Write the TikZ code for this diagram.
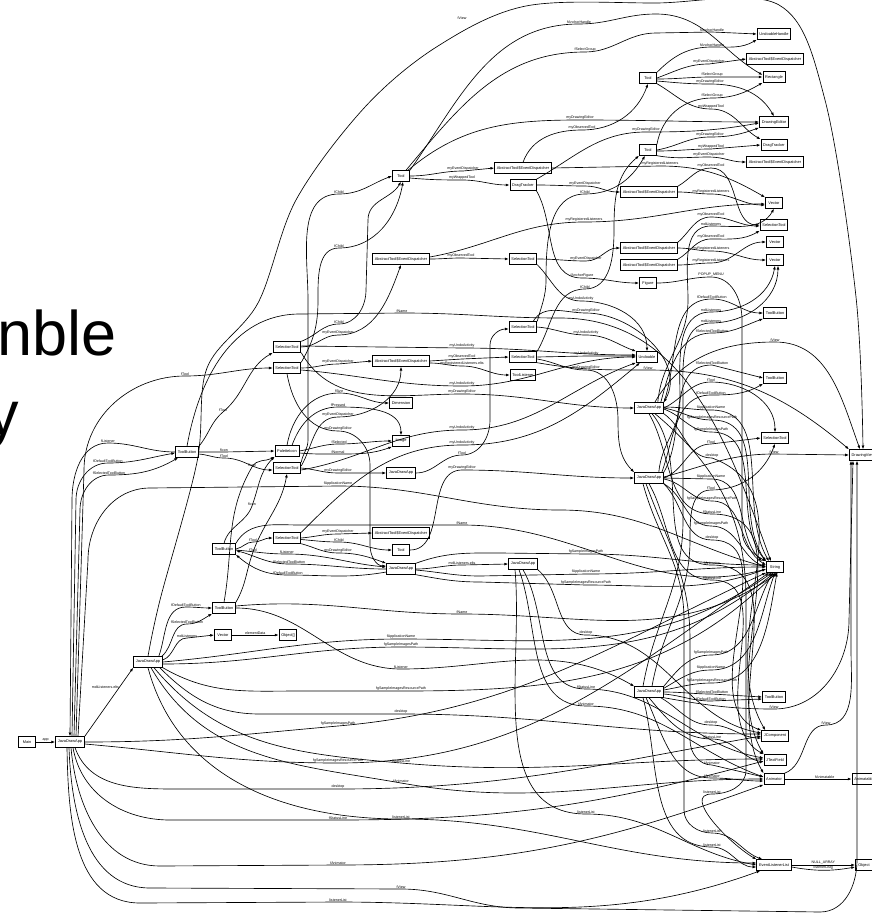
\documentclass[tikz,border=0pt]{standalone}
\usepackage{fontspec}
\setmainfont{Liberation Sans}
\usetikzlibrary{arrows.meta}

\tikzset{
  obj/.style={draw, line width=0.9pt, font=\fontsize{3.9}{4.5}\selectfont, inner xsep=2.2pt, inner ysep=0pt, minimum height=10.5pt, minimum width=17pt},
  lab/.style={font=\fontsize{3.6}{4}\selectfont, inner sep=0.4pt, anchor=south},
  ref/.style={-{Latex[length=3.8pt,width=2.8pt]}, line width=0.65pt},
}

\begin{document}
\begin{tikzpicture}[x=1pt,y=1pt]
\useasboundingbox (0,0) rectangle (872,-915);
\clip (0,0) rectangle (872,-915);

% Slide title, cut at the left
\node[anchor=base west, inner sep=0, font=\fontsize{63}{63}\selectfont] (head1) at (-3,-355) {nble};
\node[anchor=base east, inner sep=0, font=\fontsize{63}{63}\selectfont] (head2) at (19,-435) {y};

% Objects
\node[obj] (main) at (27,-742) {Main};
\node[obj] (jda0) at (70,-742) {JavaDrawApp};
\node[obj] (jda1) at (148,-662) {JavaDrawApp};
\node[obj] (tb1) at (187,-452) {ToolButton};
\node[obj] (tb2) at (224,-549) {ToolButton};
\node[obj] (tb3) at (224,-608) {ToolButton};
\node[obj] (vec1) at (223,-635) {Vector};
\node[obj] (objarr) at (288,-635) {Object[]};
\node[obj] (sel1) at (287,-347) {SelectionTool};
\node[obj] (sel2) at (287,-368) {SelectionTool};
\node[obj] (pal) at (287,-451) {PaletteIcon};
\node[obj] (sel3) at (287,-468) {SelectionTool};
\node[obj] (sel4) at (287,-538) {SelectionTool};
\node[obj] (tool1) at (401,-176) {Tool};
\node[obj] (aed1) at (401,-259) {AbstractTool\$EventDispatcher};
\node[obj] (aed2) at (401,-361) {AbstractTool\$EventDispatcher};
\node[obj] (dim) at (401,-403) {Dimension};
\node[obj] (img) at (401,-441) {Image};
\node[obj] (jda2) at (401,-473) {JavaDrawApp};
\node[obj] (aed3) at (401,-533) {AbstractTool\$EventDispatcher};
\node[obj] (tool2) at (401,-550) {Tool};
\node[obj] (jda3) at (401,-569) {JavaDrawApp};
\node[obj] (aed4) at (523,-168) {AbstractTool\$EventDispatcher};
\node[obj] (drag1) at (523,-185) {DragTracker};
\node[obj] (sel5) at (523,-259) {SelectionTool};
\node[obj] (sel6) at (523,-327) {SelectionTool};
\node[obj] (sel7) at (523,-357) {SelectionTool};
\node[obj] (tlis) at (523,-375) {ToolListener};
\node[obj] (jda4) at (523,-564) {JavaDrawApp};
\node[obj] (tool3) at (648,-78) {Tool};
\node[obj] (tool4) at (648,-150) {Tool};
\node[obj] (aed5) at (649,-192) {AbstractTool\$EventDispatcher};
\node[obj] (aed6) at (649,-248) {AbstractTool\$EventDispatcher};
\node[obj] (aed7) at (649,-265) {AbstractTool\$EventDispatcher};
\node[obj] (fig) at (648,-283) {Figure};
\node[obj] (undo) at (647,-357) {Undoable};
\node[obj] (jda5) at (649,-408) {JavaDrawApp};
\node[obj] (jda6) at (649,-478) {JavaDrawApp};
\node[obj] (jda7) at (649,-692) {JavaDrawApp};
\node[obj] (uh) at (774,-34) {UndoableHandle};
\node[obj] (aed8) at (775,-59) {AbstractTool\$EventDispatcher};
\node[obj] (rect) at (774,-77) {Rectangle};
\node[obj] (de) at (774,-122) {DrawingEditor};
\node[obj] (drag2) at (774,-145) {DragTracker};
\node[obj] (aed9) at (775,-162) {AbstractTool\$EventDispatcher};
\node[obj] (vec2) at (774,-203) {Vector};
\node[obj] (sel8) at (774,-225) {SelectionTool};
\node[obj] (vec3) at (775,-242) {Vector};
\node[obj] (vec4) at (775,-260) {Vector};
\node[obj] (tb4) at (775,-313) {ToolButton};
\node[obj] (tb5) at (775,-378) {ToolButton};
\node[obj] (sel9) at (775,-438) {SelectionTool};
\node[obj] (dv) at (863,-455) {DrawingView};
\node[obj] (str) at (775,-567) {String};
\node[obj] (tb6) at (774,-697) {ToolButton};
\node[obj] (jcomp) at (775,-736) {JComponent};
\node[obj] (jtf) at (775,-760) {JTextField};
\node[obj] (anim) at (774,-779) {Animator};
\node[obj] (animbl) at (864,-779) {Animatable};
\node[obj] (ell) at (774,-865) {EventListenerList};
\node[obj] (objb) at (864,-865) {Object};

% Main and first JavaDrawApp
\draw[ref] (main) -- node[lab]{app} (jda0);
\draw[ref] (jda0.north east) -- node[lab, pos=0.72, anchor=east]{mdiListeners.elts} (jda1.south west);
\draw[ref] (tb1.west) to[out=180,in=0] (108,-443) node[lab]{fListener} to[out=180,in=90] (72,-500) -- (jda0.north);
\draw[ref] ([xshift=2pt]jda0.north) -- (76,-500) to[out=90,in=180] (108,-463) node[lab]{fDefaultToolButton} to[out=0,in=190] ([yshift=-1pt]tb1.west);
\draw[ref] ([xshift=4pt]jda0.north) -- (80,-510) to[out=90,in=180] (109,-475) node[lab]{fSelectedToolButton} to[out=0,in=210] ([xshift=3pt]tb1.south west);
\draw[ref] ([xshift=6pt]jda0.north) -- (84,-470) to[out=90,in=180] (185,-376) node[lab]{fTool} to[out=0,in=180] (sel2.west);
\draw[ref] ([xshift=8pt]jda0.north) -- (88,-560) to[out=90,in=180] (150,-488) -- (338,-486) node[lab]{fApplicationName} to[out=0,in=180] (560,-510) to[out=0,in=165] (str.west);
\draw[ref] (jda0.east) to[out=0,in=185] (338,-726) node[lab]{fgSampleImagesPath} to[out=5,in=205] (str.south west);
\draw[ref] ([yshift=-2pt]jda0.east) to[out=-5,in=180] (338,-763) node[lab]{fgSampleImagesResourcePath} to[out=0,in=215] ([xshift=3pt]str.south west);
\draw[ref] ([xshift=5pt]jda0.south) to[out=-70,in=180] (180,-789) -- (338,-789) node[lab]{desktop} to[out=0,in=190] (jcomp.west);
\draw[ref] ([xshift=3pt]jda0.south) to[out=-80,in=180] (170,-820) -- (338,-820) node[lab]{fStatusLine} to[out=0,in=195] ([yshift=-1pt]jtf.west);
\draw[ref] ([xshift=1pt]jda0.south) to[out=-85,in=180] (160,-866) -- (338,-865) node[lab]{fAnimator} to[out=0,in=200] (anim.south west);
\draw[ref] ([xshift=-1pt]jda0.south) to[out=-88,in=180] (150,-888) -- (401,-889) node[lab]{fView} to[out=0,in=180] (520,-908) -- (820,-912) to[out=0,in=-90] (857,-860) -- ([xshift=-6pt]dv.south);
\draw[ref] ([xshift=-3pt]jda0.south) to[out=-89,in=180] (140,-903) -- (338,-902) node[lab]{listenerList} to[out=0,in=200] ([xshift=4pt]ell.south west);

% Second JavaDrawApp
\draw[ref] ([xshift=-4pt]jda1.north east) to[out=70,in=180] (186,-607) node[lab]{fDefaultToolButton} to[out=0,in=180] (tb3.west);
\draw[ref] ([xshift=-1pt]jda1.north east) to[out=40,in=180] (187,-624) node[lab]{fSelectedToolButton} to[out=0,in=-150] (tb3.south west);
\draw[ref] ([yshift=2pt]jda1.east) to[out=20,in=180] (187,-638) node[lab]{mdiListeners} -- (vec1.west);
\draw[ref] (vec1) -- node[lab]{elementData} (objarr);
\draw[ref] (jda1.east) to[out=5,in=180] (401,-639) node[lab]{fApplicationName} to[out=0,in=215] ([xshift=6pt]str.south west);
\draw[ref] ([yshift=-2pt]jda1.east) to[out=0,in=180] (401,-647) node[lab]{fgSampleImagesPath} to[out=0,in=220] ([xshift=8pt]str.south west);
\draw[ref] (jda1.south east) to[out=-30,in=180] (300,-691) -- (401,-691) node[lab]{fgSampleImagesResourcePath} to[out=0,in=225] ([xshift=10pt]str.south west);
\draw[ref] ([xshift=-3pt]jda1.south east) to[out=-45,in=180] (260,-714) -- (401,-714) node[lab]{desktop} to[out=0,in=180] ([yshift=2pt]jcomp.west);
\draw[ref] ([xshift=6pt]jda1.south) to[out=-50,in=175] (401,-763) node[lab]{fStatusLine} to[out=-5,in=180] ([yshift=1pt]jtf.west);
\draw[ref] ([xshift=3pt]jda1.south) to[out=-60,in=170] (401,-783) node[lab]{fAnimator} to[out=-10,in=180] (anim.west);
\draw[ref] (jda1.south) to[out=-75,in=180] (401,-819) node[lab]{listenerList} to[out=0,in=180] ([yshift=2pt]ell.west);
\draw[ref] (462,-18) node[lab,anchor=center]{fView} plot[smooth, tension=0.55] coordinates {(jda1.north) (160,-600) (197,-462) (207,-368) (258,-303) (296,-200) (365,-107) (438,-46) (526,-6) (656,-3) (779,-5) (825,-100) (856,-297) (dv.north)};

% Tool buttons
\draw[ref] (tb1.north east) to[out=50,in=-140] (223,-412) node[lab]{fTool} to[out=40,in=-150] (sel1.south west);
\draw[ref] (tb1.east) to[out=0,in=180] (224,-452) node[lab]{fIcon} -- (pal.west);
\draw[ref] ([yshift=-2pt]tb1.east) to[out=-5,in=180] (224,-458) node[lab]{fTool} to[out=0,in=180] ([yshift=-2pt]sel3.west);
\draw[ref] (tb1.north) to[out=80,in=180] (300,-314) -- (402,-313) node[lab]{fName} to[out=0,in=180] (560,-318) to[out=0,in=110] ([xshift=-4pt]str.north);
\draw[ref] (tb2.east) to[out=10,in=180] (253,-542) node[lab]{fTool} to[out=0,in=180] (sel4.west);
\draw[ref] (tb2.north) to[out=75,in=-110] (252,-506) node[lab]{fIcon} to[out=70,in=-135] (pal.south west);
\draw[ref] ([yshift=-1pt]tb2.east) to[out=-5,in=180] (287,-554) node[lab]{fListener} to[out=0,in=175] ([yshift=2pt]jda3.west);
\draw[ref] (jda3.west) to[out=180,in=0] (289,-564) node[lab]{fSelectedToolButton} to[out=180,in=-15] ([yshift=-1.5pt]tb2.east);
\draw[ref] ([yshift=-3pt]jda3.west) to[out=190,in=0] (288,-575) node[lab]{fDefaultToolButton} to[out=180,in=-40] (tb2.south east);
\draw[ref] (tb2.north east) to[out=60,in=180] (300,-525) -- (462,-525) node[lab]{fName} to[out=0,in=195] ([yshift=-2pt]str.west);
\draw[ref] (tb3.north east) to[out=60,in=-110] (253,-552) node[lab]{fTool} to[out=70,in=-100] (sel3.south);
\draw[ref] (tb3.north) to[out=80,in=-120] (252,-467) node[lab]{fIcon} to[out=60,in=-150] (pal.south west);
\draw[ref] (tb3.east) to[out=0,in=180] (401,-669) node[lab]{fListener} to[out=0,in=150] (jda7.north west);
\draw[ref] ([yshift=2pt]tb3.east) to[out=5,in=180] (462,-614) node[lab]{fName} to[out=0,in=215] ([xshift=12pt]str.south west);

% Selection tools and palette icon
\draw[ref] (sel1.north east) to[out=20,in=180] (339,-324) node[lab]{fChild} to[out=0,in=-90] (366,-290) -- (368,-220) to[out=90,in=-120] (tool1.south);
\draw[ref] (sel1.east) to[out=0,in=180] (338,-335) node[lab]{myEventDispatcher} to[out=0,in=-110] (aed1.south);
\draw[ref] ([yshift=1pt]sel1.east) -- (462,-348) node[lab]{myUndoActivity} to[out=0,in=180] ([yshift=2pt]undo.west);
\draw[ref] (sel1.south east) to[out=-60,in=180] (462,-394) node[lab]{myDrawingEditor} to[out=0,in=180] (jda5.west);
\draw[ref] (sel2.north east) to[out=60,in=-90] (318,-300) to[out=90,in=180] (339,-248) node[lab]{fChild} to[out=0,in=-100] ([xshift=2pt]tool1.south);
\draw[ref] (sel2.east) to[out=0,in=180] (338,-364) node[lab]{myEventDispatcher} -- (aed2.west);
\draw[ref] ([yshift=-2pt]sel2.east) to[out=-5,in=180] (462,-386) node[lab]{myUndoActivity} to[out=0,in=180] (undo.west);
\draw[ref] (sel2.south) to[out=-80,in=180] (338,-431) node[lab]{myDrawingEditor} to[out=0,in=90] (370,-465) -- (370,-545) to[out=-90,in=180] ([yshift=3pt]jda3.west);
\draw[ref] (pal.north) to[out=80,in=180] (339,-393) node[lab]{fSize} to[out=0,in=180] (dim.west);
\draw[ref] ([xshift=5pt]pal.north) to[out=70,in=180] (338,-407) node[lab]{fPressed} to[out=0,in=90] (img.north);
\draw[ref] (pal.east) to[out=10,in=180] (339,-444) node[lab]{fSelected} to[out=0,in=180] (img.west);
\draw[ref] ([yshift=-2pt]pal.east) to[out=-5,in=180] (338,-454) node[lab]{fNormal} to[out=0,in=-160] (img.south west);
\draw[ref] (sel3.north east) to[out=80,in=-90] (308,-440) -- (308,-300) to[out=90,in=180] (339,-194) node[lab]{fChild} to[out=0,in=-160] (tool1.west);
\draw[ref] ([yshift=2pt]sel3.east) to[out=60,in=180] (338,-417) node[lab]{myEventDispatcher} to[out=0,in=-90] (aed2.south);
\draw[ref] (sel3.east) to[out=-5,in=180] (338,-473) node[lab]{myDrawingEditor} -- (jda2.west);
\draw[ref] ([yshift=-2pt]sel3.east) to[out=10,in=180] (462,-430) node[lab]{myUndoActivity} to[out=0,in=-160] (undo.south west);
\draw[ref] (sel4.east) to[out=5,in=180] (338,-534) node[lab]{myEventDispatcher} -- (aed3.west);
\draw[ref] ([yshift=-1.5pt]sel4.east) to[out=-5,in=180] (339,-542) node[lab]{fChild} to[out=0,in=180] (tool2.west);
\draw[ref] (sel4.south east) to[out=-15,in=180] (338,-553) node[lab]{myDrawingEditor} to[out=0,in=160] (jda3.north west);
\draw[ref] (sel4.north east) to[out=45,in=180] (462,-445) node[lab]{myUndoActivity} to[out=0,in=-140] ([xshift=4pt]undo.south west);

% Middle column
\draw[ref] (tool1.east) to[out=0,in=180] (463,-171) node[lab]{myEventDispatcher} -- (aed4.west);
\draw[ref] ([yshift=-2pt]tool1.east) to[out=-5,in=180] (462,-180) node[lab]{myWrappedTool} to[out=0,in=180] (drag1.west);
\draw[ref] ([xshift=-2pt]tool1.north east) to[out=40,in=180] (580,-120) node[lab]{myDrawingEditor} to[out=0,in=180] (de.west);
\draw[ref] (tool1.north east) to[out=55,in=180] (579,-24) node[lab]{fAnchorHandle} to[out=0,in=180] (656,-14) to[out=0,in=150] ([yshift=2pt]rect.west);
\draw[ref] ([xshift=-4pt]tool1.north east) to[out=50,in=180] (585,-52) node[lab]{fSelectGroup} to[out=0,in=180] (656,-33) -- (712,-32) node[lab]{fAnchorHandle} -- (uh.west);
\draw[ref] (aed1.east) to[out=0,in=180] (461,-258) node[lab]{myObservedTool} -- (sel5.west);
\draw[ref] ([yshift=2pt]aed1.east) to[out=10,in=180] (584,-222) node[lab]{myRegisteredListeners} to[out=0,in=180] ([yshift=-1pt]vec2.west);
\draw[ref] (aed2.east) -- (462,-359) node[lab]{myObservedTool} -- (sel7.west);
\draw[ref] ([yshift=-2pt]aed2.east) to[out=0,in=180] (462,-366) node[lab]{myRegisteredListeners.elts} to[out=0,in=180] (tlis.west);
\draw[ref] (jda2.east) to[out=0,in=180] (462,-455) node[lab]{fTool} to[out=0,in=-90] (490,-420) -- (490,-345) to[out=90,in=180] ([yshift=-2pt]sel6.west);
\draw[ref] (tool2.east) to[out=0,in=180] (462,-470) node[lab]{myDrawingEditor} to[out=0,in=180] (jda6.west);
\draw[ref] (jda3.east) to[out=0,in=180] (462,-565) node[lab]{mdiListeners.elts} -- (jda4.west);
\draw[ref] (jda3.north east) to[out=20,in=180] (500,-553) -- (586,-554) node[lab]{fgSampleImagesPath} to[out=0,in=180] ([yshift=2pt]str.west);
\draw[ref] ([yshift=-1pt]jda3.east) to[out=-5,in=180] (480,-576) -- (586,-574) node[lab]{fApplicationName} to[out=0,in=180] (str.west);
\draw[ref] (jda3.south east) to[out=-10,in=180] (480,-582) -- (586,-585) node[lab]{fgSampleImagesResourcePath} to[out=0,in=200] ([yshift=-2pt]str.west);
\draw[ref] (jda4.south east) to[out=-40,in=180] (586,-635) node[lab]{desktop} to[out=0,in=170] ([yshift=3pt]jcomp.west);
\draw[ref] (jda4.south) to[out=-60,in=180] (586,-689) node[lab]{fStatusLine} to[out=0,in=170] ([yshift=2pt]jtf.west);
\draw[ref] ([xshift=-4pt]jda4.south) to[out=-70,in=180] (586,-706) node[lab]{fAnimator} to[out=0,in=160] ([yshift=2pt]anim.west);
\draw[ref] ([xshift=-8pt]jda4.south) to[out=-85,in=180] (586,-814) node[lab]{listenerList} to[out=0,in=170] (ell.west);

% Tools and dispatchers on the right
\draw[ref] (aed4.north) to[out=70,in=180] (582,-130) node[lab]{myObservedTool} to[out=0,in=-110] (tool3.south);
\draw[ref] (aed4.east) -- (660,-166) node[lab]{myRegisteredListeners} to[out=0,in=150] (vec2.north west);
\draw[ref] (drag1.east) to[out=0,in=180] (585,-186) node[lab]{myEventDispatcher} to[out=0,in=180] (aed5.west);
\draw[ref] (drag1.north east) to[out=30,in=180] (646,-132) node[lab]{myDrawingEditor} to[out=0,in=190] ([yshift=-1pt]de.west);
\draw[ref] (drag1.south east) to[out=-60,in=180] (582,-278) node[lab]{fAnchorFigure} to[out=0,in=180] (fig.west);
\draw[ref] (sel5.east) to[out=0,in=180] (586,-261) node[lab]{myEventDispatcher} to[out=0,in=180] (aed6.west);
\draw[ref] (sel5.south east) to[out=-45,in=180] (581,-301) node[lab]{myUndoActivity} to[out=0,in=90] (undo.north);
\draw[ref] (sel6.north east) to[out=75,in=-90] (546,-280) to[out=90,in=180] (585,-194) node[lab]{fChild} to[out=0,in=-120] ([xshift=-3pt]tool4.south);
\draw[ref] (sel6.east) to[out=-5,in=180] (586,-335) node[lab]{myUndoActivity} to[out=0,in=160] (undo.north west);
\draw[ref] ([xshift=-4pt]sel6.north east) to[out=60,in=180] (586,-313) node[lab]{myDrawingEditor} to[out=0,in=60] (jda5.north east);
\draw[ref] (sel7.north east) to[out=60,in=180] (585,-289) node[lab]{fChild} to[out=0,in=-90] (614,-230) to[out=90,in=-140] (tool4.south west);
\draw[ref] (sel7.east) -- (586,-356) node[lab]{myUndoActivity} -- ([yshift=1pt]undo.west);
\draw[ref] ([yshift=-2pt]sel7.east) to[out=-10,in=180] (586,-370) node[lab]{myDrawingEditor} to[out=0,in=90] (618,-420) to[out=-90,in=135] (jda6.north west);
\draw[ref] (sel7.south east) to[out=-10,in=180] (648,-370) node[lab]{fView} to[out=0,in=140] (dv.north west);
\draw[ref] (tool3.east) to[out=20,in=180] (709,-64) node[lab]{myEventDispatcher} -- (aed8.west);
\draw[ref] ([yshift=-1pt]tool3.east) to[out=0,in=180] (712,-77) node[lab]{fSelectGroup} -- (rect.west);
\draw[ref] ([yshift=-3pt]tool3.east) to[out=-5,in=180] (710,-84) node[lab]{myDrawingEditor} to[out=0,in=120] (de.north);
\draw[ref] (tool3.south east) to[out=-30,in=180] (711,-109) node[lab]{myWrappedTool} to[out=0,in=150] (drag2.north west);
\draw[ref] (tool3.north east) to[out=45,in=180] (712,-47) node[lab]{fAnchorHandle} to[out=0,in=-150] (uh.south west);
\draw[ref] (tool4.north east) to[out=80,in=180] (712,-98) node[lab]{fSelectGroup} to[out=0,in=-150] (rect.south west);
\draw[ref] (tool4.east) to[out=10,in=180] (710,-137) node[lab]{myDrawingEditor} to[out=0,in=-160] (de.south west);
\draw[ref] ([yshift=-1pt]tool4.east) to[out=0,in=180] (711,-149) node[lab]{myWrappedTool} -- (drag2.west);
\draw[ref] (tool4.south east) to[out=-10,in=180] (709,-157) node[lab]{myEventDispatcher} to[out=0,in=180] (aed9.west);
\draw[ref] (aed5.north east) to[out=30,in=180] (711,-168) node[lab]{myObservedTool} to[out=0,in=180] (sel8.west);
\draw[ref] (aed5.east) to[out=0,in=180] (711,-194) node[lab]{myRegisteredListeners} to[out=0,in=180] ([yshift=-2pt]vec2.west);
\draw[ref] (aed6.north east) to[out=40,in=180] (711,-217) node[lab]{myObservedTool} to[out=0,in=180] ([yshift=-1pt]sel8.west);
\draw[ref] (aed6.east) to[out=0,in=180] (711,-251) node[lab]{myRegisteredListeners} to[out=0,in=180] (vec4.west);
\draw[ref] (aed7.north east) to[out=30,in=180] (711,-239) node[lab]{myObservedTool} to[out=0,in=-150] (sel8.south west);
\draw[ref] (aed7.east) to[out=0,in=180] (711,-263) node[lab]{myRegisteredListeners} to[out=0,in=180] (vec3.west);
\draw[ref] (fig.east) to[out=0,in=180] (711,-277) node[lab]{POPUP\_MENU} to[out=0,in=90] (742,-320) -- (742,-530) to[out=-90,in=150] (str.north west);

% JavaDrawApps on the right
\draw[ref] (jda5.north east) to[out=70,in=180] (712,-299) node[lab]{fDefaultToolButton} to[out=0,in=180] (tb4.west);
\draw[ref] ([xshift=-3pt]jda5.north east) to[out=75,in=180] (712,-333) node[lab]{fSelectedToolButton} to[out=0,in=-160] (tb4.south west);
\draw[ref] ([xshift=-6pt]jda5.north east) to[out=85,in=-90] (688,-300) to[out=90,in=180] (711,-226) node[lab]{mdiListeners} to[out=0,in=-120] (vec2.south);
\draw[ref] ([xshift=-9pt]jda5.north east) to[out=60,in=180] (775,-342) node[lab]{fView} to[out=0,in=110] ([xshift=-3pt]dv.north);
\draw[ref] (jda5.east) to[out=25,in=180] (711,-382) node[lab]{fTool} to[out=0,in=90] (sel9.north);
\draw[ref] ([yshift=1pt]jda5.east) to[out=0,in=180] (711,-410) node[lab]{fApplicationName} to[out=0,in=120] ([xshift=-6pt]str.north);
\draw[ref] (jda5.east) to[out=-10,in=180] (712,-420) node[lab]{fgSampleImagesResourcePath} to[out=0,in=125] ([xshift=-9pt]str.north);
\draw[ref] ([yshift=-1pt]jda5.east) to[out=-20,in=180] (711,-432) node[lab]{fgSampleImagesPath} to[out=0,in=130] (str.north west);
\draw[ref] (jda5.south east) to[out=-35,in=180] (712,-458) node[lab]{desktop} to[out=-20,in=120] ([xshift=4pt]jcomp.north west);
\draw[ref] (jda5.south) to[out=-60,in=180] (712,-514) node[lab]{fStatusLine} to[out=0,in=120] (jtf.north west);
\draw[ref] ([xshift=3pt]jda5.south) to[out=-50,in=180] (712,-565) node[lab]{fAnimator} to[out=0,in=120] (anim.north west);
\draw[ref] ([xshift=6pt]jda5.south) to[out=-40,in=90] (746,-600) -- (746,-770) to[out=-90,in=0] (712,-794) node[lab]{listenerList} to[out=180,in=150] (ell.north west);
\draw[ref] (jda6.north east) to[out=60,in=180] (712,-365) node[lab]{fSelectedToolButton} -- (tb5.west);
\draw[ref] ([xshift=-2pt]jda6.north east) to[out=70,in=180] (711,-395) node[lab]{fDefaultToolButton} to[out=0,in=-150] (tb5.south west);
\draw[ref] ([xshift=-5pt]jda6.north east) to[out=85,in=-90] (680,-400) to[out=90,in=180] (711,-312) node[lab]{mdiListeners} to[out=0,in=-100] (vec4.south);
\draw[ref] (jda6.east) to[out=20,in=180] (711,-444) node[lab]{fTool} -- (sel9.west);
\draw[ref] ([yshift=1pt]jda6.east) to[out=15,in=180] (774,-454) node[lab]{fView} -- (dv.west);
\draw[ref] (jda6.east) -- (711,-479) node[lab]{fApplicationName} to[out=0,in=135] ([xshift=-4pt]str.north west);
\draw[ref] ([yshift=-1pt]jda6.east) to[out=-10,in=180] (712,-501) node[lab]{fgSampleImagesResourcePath} to[out=0,in=150] ([yshift=2pt]str.west);
\draw[ref] (jda6.south east) to[out=-30,in=180] (711,-526) node[lab]{fgSampleImagesPath} to[out=0,in=160] (str.west);
\draw[ref] (jda6.south east) to[out=-45,in=180] (712,-540) node[lab]{desktop} to[out=0,in=160] (jcomp.north west);
\draw[ref] (jda6.south) to[out=-60,in=180] (712,-580) node[lab]{fStatusLine} to[out=0,in=150] (jtf.north west);
\draw[ref] ([xshift=-3pt]jda6.south) to[out=-70,in=90] (690,-640) -- (690,-740) to[out=-90,in=180] (712,-765) node[lab]{fAnimator} -- ([yshift=2pt]anim.west);
\draw[ref] ([xshift=-6pt]jda6.south) to[out=-75,in=90] (684,-620) -- (684,-810) to[out=-90,in=180] (712,-833) node[lab]{listenerList} to[out=0,in=160] ([xshift=6pt]ell.north west);
\draw[ref] (jda7.north east) to[out=50,in=180] (711,-655) node[lab]{fgSampleImagesPath} to[out=0,in=-120] ([xshift=-2pt]str.south);
\draw[ref] ([yshift=-2pt]jda7.north east) to[out=30,in=180] (711,-670) node[lab]{fApplicationName} to[out=0,in=-110] (str.south);
\draw[ref] ([yshift=2pt]jda7.east) to[out=10,in=180] (712,-683) node[lab]{fgSampleImagesResourcePath} to[out=0,in=-100] ([xshift=2pt]str.south);
\draw[ref] (jda7.east) to[out=0,in=180] (712,-694) node[lab]{fSelectedToolButton} -- (tb6.west);
\draw[ref] ([yshift=-2pt]jda7.east) to[out=-5,in=180] (711,-701) node[lab]{fDefaultToolButton} -- ([yshift=-2pt]tb6.west);
\draw[ref] (jda7.south east) to[out=-10,in=180] (774,-709) node[lab]{fView} to[out=0,in=-90] (849,-620) -- ([xshift=-10pt]dv.south);
\draw[ref] ([xshift=-3pt]jda7.south east) to[out=-30,in=180] (711,-725) node[lab]{desktop} to[out=0,in=180] ([yshift=-2pt]jcomp.west);
\draw[ref] (jda7.south) to[out=-50,in=180] (712,-739) node[lab]{fStatusLine} to[out=0,in=170] ([yshift=-2pt]jtf.west);
\draw[ref] ([xshift=-3pt]jda7.south) to[out=-65,in=180] (712,-778) node[lab]{fAnimator} to[out=0,in=180] ([yshift=-2pt]anim.west);
\draw[ref] ([xshift=-6pt]jda7.south) to[out=-75,in=180] (712,-847) node[lab]{listenerList} to[out=0,in=180] ([yshift=-2pt]ell.west);
\draw[ref] ([xshift=-6pt]jda7.north) to[out=80,in=-90] (683,-520) -- (683,-400) to[out=90,in=180] (711,-323) node[lab]{mdiListeners} to[out=0,in=-90] ([xshift=3pt]vec4.south);
\draw[ref] ([xshift=3pt]jda7.north) to[out=80,in=-90] (690,-540) to[out=90,in=180] (711,-490) node[lab]{fTool} to[out=0,in=-110] (sel9.south);

% Animator and listener list
\draw[ref] (anim) -- node[lab, pos=0.6]{fAnimatable} (animbl);
\draw[ref] (anim.north east) to[out=20,in=180] (826,-725) node[lab]{fView} to[out=0,in=-90] (851,-650) -- ([xshift=-12pt]dv.south);
\draw[ref] (ell) -- node[lab]{NULL\_ARRAY} (objb);
\draw[ref] ([yshift=-2pt]ell.east) to[out=-10,in=190] node[lab]{listenerList[]} ([yshift=-2pt]objb.west);

\end{tikzpicture}
\end{document}
